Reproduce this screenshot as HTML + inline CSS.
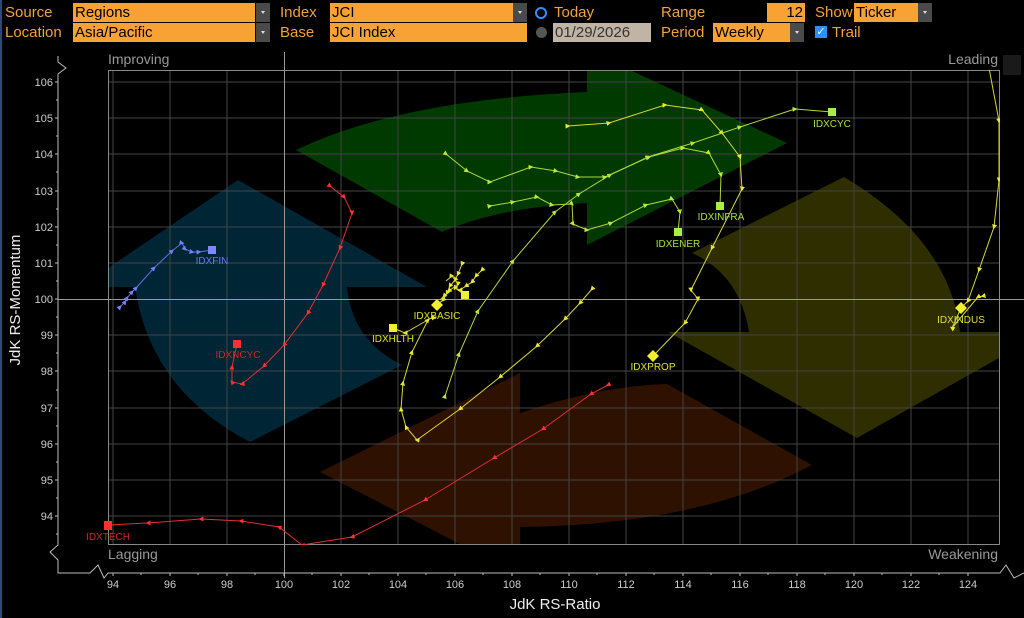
<!DOCTYPE html>
<html><head><meta charset="utf-8">
<style>
html,body{margin:0;padding:0;background:#000;}
body{width:1024px;height:618px;position:relative;overflow:hidden;font-family:"Liberation Sans Narrow","Liberation Sans",sans-serif;}
.lbl{position:absolute;color:#f0a33c;font-size:15px;line-height:19px;}
.fld{position:absolute;background:#f8a235;color:#000;font-size:15px;line-height:19px;height:19px;padding-left:2px;box-sizing:border-box;}
.btn{position:absolute;background:#4a4a4a;width:14px;height:19px;}
.btn:after{content:"";position:absolute;left:5px;top:8px;border-left:2px solid transparent;border-right:2px solid transparent;border-top:3px solid #ddd;}
</style></head><body>
<div style="position:absolute;left:0;top:0;width:2px;height:618px;background:#2a4a7a"></div>
<div class="lbl" style="left:5px;top:3px">Source</div>
<div class="fld" style="left:73px;top:3px;width:182px">Regions</div><div class="btn" style="left:256px;top:3px"></div>
<div class="lbl" style="left:280px;top:3px">Index</div>
<div class="fld" style="left:330px;top:3px;width:183px">JCI</div><div class="btn" style="left:513px;top:3px"></div>
<div style="position:absolute;left:535px;top:7px;width:8px;height:8px;border:2px solid #2f8fff;border-radius:50%"></div>
<div class="lbl" style="left:554px;top:3px">Today</div>
<div class="lbl" style="left:661px;top:3px">Range</div>
<div class="fld" style="left:767px;top:3px;width:38px;text-align:right;padding-right:2px">12</div>
<div class="lbl" style="left:815px;top:3px">Show</div>
<div class="fld" style="left:854px;top:3px;width:64px">Ticker</div><div class="btn" style="left:918px;top:3px"></div>

<div class="lbl" style="left:5px;top:23px">Location</div>
<div class="fld" style="left:73px;top:23px;width:182px">Asia/Pacific</div><div class="btn" style="left:256px;top:23px"></div>
<div class="lbl" style="left:280px;top:23px">Base</div>
<div class="fld" style="left:330px;top:23px;width:197px">JCI Index</div>
<div style="position:absolute;left:536px;top:27px;width:11px;height:11px;background:#555;border-radius:50%"></div>
<div class="fld" style="left:553px;top:23px;width:98px;background:#c0b4a4;color:#333">01/29/2026</div>
<div class="lbl" style="left:661px;top:23px">Period</div>
<div class="fld" style="left:713px;top:23px;width:77px">Weekly</div><div class="btn" style="left:790px;top:23px"></div>
<div style="position:absolute;left:815px;top:26px;width:12px;height:12px;background:#2f8fff;color:#fff;font-size:11px;line-height:12px;text-align:center">✓</div>
<div class="lbl" style="left:832px;top:23px">Trail</div>

<svg width="1024" height="618" style="position:absolute;left:0;top:0" xmlns="http://www.w3.org/2000/svg">
<defs>
<clipPath id="pc"><rect x="108" y="70" width="892" height="475"/></clipPath>
<marker id="my" viewBox="0 0 10 10" refX="5" refY="5" markerWidth="5" markerHeight="5" orient="auto"><path d="M0,0 L10,5 L0,10 Z" fill="#e8e830"/></marker>
<marker id="mg" viewBox="0 0 10 10" refX="5" refY="5" markerWidth="5" markerHeight="5" orient="auto"><path d="M0,0 L10,5 L0,10 Z" fill="#b8e83a"/></marker>
<marker id="mr" viewBox="0 0 10 10" refX="5" refY="5" markerWidth="5" markerHeight="5" orient="auto"><path d="M0,0 L10,5 L0,10 Z" fill="#ff3030"/></marker>
<marker id="mb" viewBox="0 0 10 10" refX="5" refY="5" markerWidth="5" markerHeight="5" orient="auto"><path d="M0,0 L10,5 L0,10 Z" fill="#7080ff"/></marker>
</defs>
<g clip-path="url(#pc)">
<!-- shapes -->
<path d="M296,150 Q400,100 587,92 L587,50 L787,143 L587,245 L587,203 Q500,207 442,232 Z" fill="#003a00"/>
<path d="M80,287 L238,180 L427,287 L347,287 Q352,340 402,365 L250,442 Q150,390 135,287 Z" fill="#002534"/>
<path d="M844,177 Q950,240 960,332 L1045,332 L857,438 L668,332 L749,332 Q740,275 692,253 Z" fill="#2e2e00"/>
<path d="M320,472 L520,373 L520,413 Q600,386 667,384 L812,465 Q700,525 520,527 L520,575 Z" fill="#2e1100"/>
<!-- grid -->
<g stroke="#444" stroke-width="1">
<line x1="113" y1="70" x2="113" y2="545"/><line x1="170" y1="70" x2="170" y2="545"/><line x1="227" y1="70" x2="227" y2="545"/><line x1="341" y1="70" x2="341" y2="545"/><line x1="398" y1="70" x2="398" y2="545"/><line x1="455" y1="70" x2="455" y2="545"/><line x1="512" y1="70" x2="512" y2="545"/><line x1="569" y1="70" x2="569" y2="545"/><line x1="626" y1="70" x2="626" y2="545"/><line x1="683" y1="70" x2="683" y2="545"/><line x1="740" y1="70" x2="740" y2="545"/><line x1="797" y1="70" x2="797" y2="545"/><line x1="854" y1="70" x2="854" y2="545"/><line x1="911" y1="70" x2="911" y2="545"/><line x1="968" y1="70" x2="968" y2="545"/>
<line x1="108" y1="82" x2="1000" y2="82"/><line x1="108" y1="118" x2="1000" y2="118"/><line x1="108" y1="154" x2="1000" y2="154"/><line x1="108" y1="191" x2="1000" y2="191"/><line x1="108" y1="227" x2="1000" y2="227"/><line x1="108" y1="263" x2="1000" y2="263"/><line x1="108" y1="335" x2="1000" y2="335"/><line x1="108" y1="371" x2="1000" y2="371"/><line x1="108" y1="408" x2="1000" y2="408"/><line x1="108" y1="444" x2="1000" y2="444"/><line x1="108" y1="480" x2="1000" y2="480"/><line x1="108" y1="516" x2="1000" y2="516"/>
</g>
</g>
<rect x="108.5" y="70.5" width="891" height="474" fill="none" stroke="#888" stroke-width="1"/>
<line x1="284.5" y1="52" x2="284.5" y2="578" stroke="#999" stroke-width="1"/>
<line x1="58" y1="299.5" x2="1024" y2="299.5" stroke="#999" stroke-width="1"/>

<g clip-path="url(#pc)" fill="none" stroke-width="1">
<!-- IDXTECH -->
<polyline points="608,385 591,394 543,429 494,458 425,500 352,537 302,545 279,527 241,521 201,519 148,523 108,525" stroke="#e03030" marker-mid="url(#mr)" marker-start="url(#mr)"/>
<!-- IDXNCYC -->
<polyline points="330,186 344,197 352,213 340,248 323,285 308,313 284,345 264,366 242,384 232,382 232,367 237,344" stroke="#e03030" marker-mid="url(#mr)" marker-start="url(#mr)"/>
<!-- IDXFIN -->
<polyline points="120,307 125,302 127,298 132,292 136,288 154,268 172,251 182,243 185,249 192,252 199,252 212,250" stroke="#6070e0" marker-mid="url(#mb)" marker-start="url(#mb)"/>
<!-- IDXPROP -->
<polyline points="568,126 609,123 665,105 702,110 722,133 740,157 742,189 712,248 691,290 698,299 685,323 653,356" stroke="#d8d838" marker-mid="url(#my)" marker-start="url(#my)"/>
<!-- IDXCYC -->
<polyline points="445,396 459,354 478,311 513,261 555,212 579,194 610,175 648,157 693,143 740,127 795,109 832,112" stroke="#b0d83a" marker-mid="url(#mg)" marker-start="url(#mg)"/>
<!-- IDXENER -->
<polyline points="490,206 513,202 537,197 552,205 572,204 573,224 587,230 611,223 646,205 672,199 680,212 678,232" stroke="#b0d83a" marker-mid="url(#mg)" marker-start="url(#mg)"/>
<!-- IDXINFRA -->
<polyline points="446,154 467,171 490,182 531,167 556,171 578,177 605,177 649,157 683,148 709,153 721,175 720,206" stroke="#b0d83a" marker-mid="url(#mg)" marker-start="url(#mg)"/>
<!-- IDXHLTH -->
<polyline points="592,289 580,303 565,319 537,346 500,377 460,409 417,440 406,427 401,409 403,383 412,352 428,320 433,317 405,333 393,328" stroke="#d8d838" marker-mid="url(#my)" marker-start="url(#my)"/>
<!-- IDXBASIC -->
<polyline points="462,264 458,274 455,280 450,286 447,293 443,300 437,305" stroke="#d8d838" marker-mid="url(#my)" marker-start="url(#my)"/>
<polyline points="482,270 476,276 472,282 466,286 460,290 455,288 465,295" stroke="#d8d838" marker-mid="url(#my)" marker-start="url(#my)"/>
<polyline points="446,281 452,276 458,284 449,291 444,296 440,300" stroke="#d8d838" marker-mid="url(#my)"/>
<!-- IDXINDUS -->
<polyline points="989,68 999,121 999,180 994,227 979,270 968,301 961,308" stroke="#d8d838" marker-mid="url(#my)" marker-start="url(#my)"/>
<polyline points="983,296 978,297 952,328 961,308" stroke="#d8d838" marker-mid="url(#my)" marker-start="url(#my)"/>
</g>
<!-- end markers -->
<rect x="104" y="521" width="8" height="9" fill="#ff3030"/>
<rect x="233" y="340" width="8" height="8" fill="#ff3030"/>
<rect x="208" y="246" width="8" height="8" fill="#7c88ff"/>
<rect x="828" y="108" width="8" height="8" fill="#a8f040"/>
<rect x="716" y="202" width="8" height="8" fill="#a8f040"/>
<rect x="674" y="228" width="8" height="8" fill="#a8f040"/>
<rect x="389" y="324" width="8" height="8" fill="#f0f030"/>
<rect x="461" y="291" width="8" height="8" fill="#f0f030"/>
<path d="M653,350 L659,356 L653,362 L647,356 Z" fill="#f0f030"/>
<path d="M437,299 L443,305 L437,311 L431,305 Z" fill="#f0f030"/>
<path d="M961,302 L967,308 L961,314 L955,308 Z" fill="#f0f030"/>
<g font-family="Liberation Sans Narrow, Liberation Sans, sans-serif" font-size="10" text-anchor="middle">
<text x="108" y="540" fill="#d02828">IDXTECH</text>
<text x="238" y="358" fill="#d02828">IDXNCYC</text>
<text x="212" y="264" fill="#6a78f0">IDXFIN</text>
<text x="832" y="127" fill="#a8e040">IDXCYC</text>
<text x="721" y="220" fill="#a8e040">IDXINFRA</text>
<text x="678" y="247" fill="#a8e040">IDXENER</text>
<text x="653" y="370" fill="#e0e030">IDXPROP</text>
<text x="437" y="319" fill="#e0e030">IDXBASIC</text>
<text x="393" y="342" fill="#e0e030">IDXHLTH</text>
<text x="961" y="323" fill="#e0e030">IDXINDUS</text>
</g>

<!-- quadrant labels -->
<g font-family="Liberation Sans, sans-serif" font-size="14" fill="#999">
<text x="108" y="64">Improving</text>
<text x="998" y="64" text-anchor="end">Leading</text>
<text x="108" y="559">Lagging</text>
<text x="998" y="559" text-anchor="end">Weakening</text>
</g>
<rect x="1003" y="55" width="18" height="20" fill="#1a1a1a"/>

<!-- Y axis -->
<g stroke="#bbb" stroke-width="1" fill="none">
<path d="M58,56 L58,62 L66,68 L58,74 L58,545 L50,552 L58,560 L58,573 L90,573 L98,565 L104,578 L108,573 L1000,573 L1006,565 L1014,578 L1024,573"/>
<path d="M55,82h3M55,118h3M55,154h3M55,191h3M55,227h3M55,263h3M55,299h3M55,335h3M55,371h3M55,408h3M55,444h3M55,480h3M55,516h3"/>
<path d="M56,100h2M56,136h2M56,172h2M56,209h2M56,245h2M56,281h2M56,317h2M56,353h2M56,390h2M56,426h2M56,462h2M56,498h2M56,534h2"/>
<path d="M113,573v3M170,573v3M227,573v3M284,573v3M341,573v3M398,573v3M455,573v3M512,573v3M569,573v3M626,573v3M683,573v3M740,573v3M797,573v3M854,573v3M911,573v3M968,573v3"/>
<path d="M141,573v2M198,573v2M255,573v2M312,573v2M369,573v2M426,573v2M483,573v2M540,573v2M597,573v2M654,573v2M711,573v2M768,573v2M825,573v2M882,573v2M939,573v2"/>
</g>
<g font-family="Liberation Sans Narrow, Liberation Sans, sans-serif" font-size="11" fill="#ccc" text-anchor="end">
<text x="53" y="86">106</text><text x="53" y="122">105</text><text x="53" y="158">104</text><text x="53" y="195">103</text><text x="53" y="231">102</text><text x="53" y="267">101</text><text x="53" y="303">100</text><text x="53" y="339">99</text><text x="53" y="375">98</text><text x="53" y="412">97</text><text x="53" y="448">96</text><text x="53" y="484">95</text><text x="53" y="520">94</text>
</g>
<g font-family="Liberation Sans Narrow, Liberation Sans, sans-serif" font-size="11" fill="#ccc" text-anchor="middle">
<text x="113" y="588">94</text><text x="170" y="588">96</text><text x="227" y="588">98</text><text x="284" y="588">100</text><text x="341" y="588">102</text><text x="398" y="588">104</text><text x="455" y="588">106</text><text x="512" y="588">108</text><text x="569" y="588">110</text><text x="626" y="588">112</text><text x="683" y="588">114</text><text x="740" y="588">116</text><text x="797" y="588">118</text><text x="854" y="588">120</text><text x="911" y="588">122</text><text x="968" y="588">124</text>
</g>
<text x="555" y="609" font-family="Liberation Sans Narrow, Liberation Sans, sans-serif" font-size="15" fill="#eee" text-anchor="middle">JdK RS-Ratio</text>
<text transform="translate(20,300) rotate(-90)" font-family="Liberation Sans Narrow, Liberation Sans, sans-serif" font-size="15" fill="#eee" text-anchor="middle">JdK RS-Momentum</text>
</svg>
</body></html>
